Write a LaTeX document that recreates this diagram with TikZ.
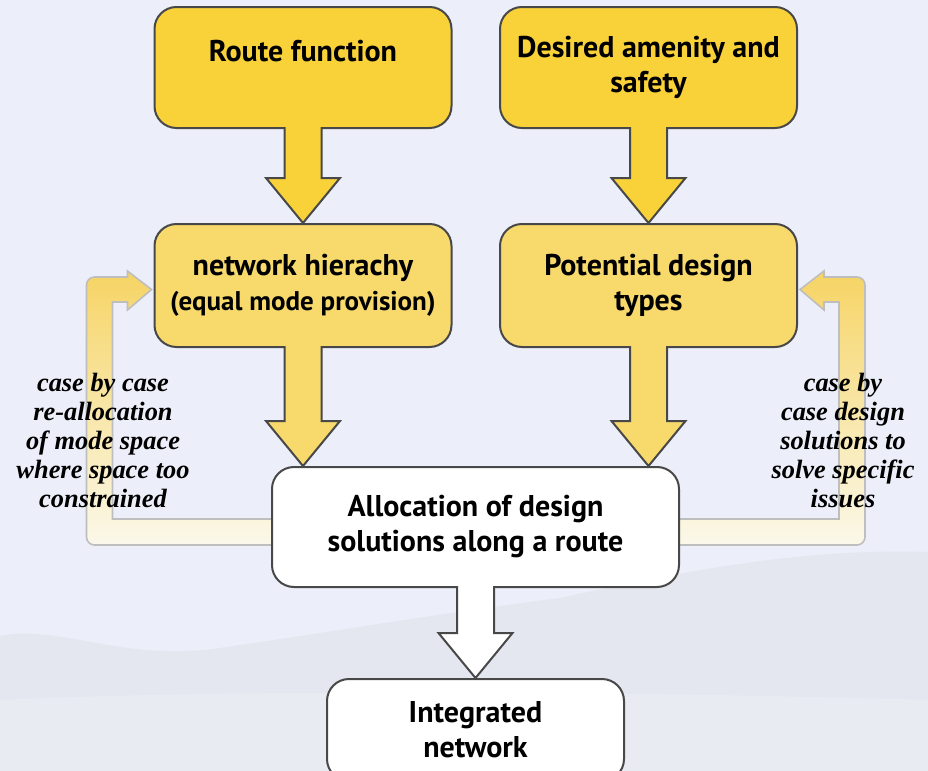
\documentclass[tikz,border=0pt]{standalone}
\usepackage{fontspec}
\setmainfont{Liberation Serif}
\setsansfont{PT Sans}
\usetikzlibrary{positioning}
\usetikzlibrary{calc}
\usetikzlibrary{backgrounds}

\definecolor{bgblue}{RGB}{236,239,249}
\definecolor{mist}{RGB}{228,231,239}
\definecolor{mistlow}{RGB}{233,235,242}
\definecolor{topyellow}{RGB}{249,210,58}
\definecolor{midyellow}{RGB}{247,217,108}
\definecolor{boxline}{RGB}{72,72,72}
\definecolor{loopline}{RGB}{190,190,190}
\definecolor{loopyellow}{RGB}{246,212,100}
\definecolor{looppale}{RGB}{251,248,234}

\newcommand{\bigarrow}[3]{%
  \filldraw[arrowline, fill=#3] ($(#1)+(-18.5,-2)$) -- ($(#2)+(-18.5,-45)$) -- ($(#2)+(-37,-45)$) -- (#2)
    -- ($(#2)+(37,-45)$) -- ($(#2)+(18.5,-45)$) -- ($(#1)+(18.5,-2)$);}

\begin{document}
\begin{tikzpicture}[x=0.5pt, y=-0.5pt,
    box/.style={draw=boxline, line width=1pt, rounded corners=11pt, align=center, inner sep=0pt,
      minimum width=148.5pt, minimum height=60.5pt, font=\sffamily\bfseries\fontsize{15}{17.5}\selectfont},
    note/.style={align=center, inner sep=0pt, font=\rmfamily\bfseries\itshape\fontsize{13.2}{14.5}\selectfont},
    arrowline/.style={draw=boxline, line width=1pt, line join=miter},
    loopband/.style={draw=loopline, line width=0.8pt, top color=loopyellow, bottom color=looppale}]
        \useasboundingbox (0,0) rectangle (928,771);
        \clip (0,0) rectangle (928,771);

        \node[box, fill=topyellow] (route) at (303,67.5) {Route function\\[-6pt]\strut};
        \node[box, fill=topyellow] (amenity) at (648.5,67.5) {Desired amenity and\\safety};
        \node[box, fill=midyellow, minimum height=61.5pt] (hierarchy) at (303,285.5)
            {network hierachy\\{\fontsize{13.5}{17.5}\selectfont(equal mode provision)}};
        \node[box, fill=midyellow, minimum height=61.5pt] (types) at (648.5,285.5) {Potential design\\types};
        \node[box, fill=white, minimum width=203.5pt, minimum height=60pt] (allocation) at (475.5,527)
            {Allocation of design\\solutions along a route};
        \node[box, fill=white, minimum height=51pt] (integrated) at (475.5,730) {Integrated\\network};

        \node[note] (leftnote) at (103,440) {case by case\\re-allocation\\of mode space\\where space too\\constrained};
        \node[note] (rightnote) at (843,440) {case by\\case design\\solutions to\\solve specific\\issues};

        \coordinate (routetip) at (route.south |- hierarchy.north);
        \coordinate (amenitytip) at (amenity.south |- types.north);
        \coordinate (hierarchytip) at (hierarchy.south |- allocation.north);
        \coordinate (typestip) at (types.south |- allocation.north);

        \bigarrow{route.south}{routetip}{topyellow}
        \bigarrow{amenity.south}{amenitytip}{topyellow}
        \bigarrow{hierarchy.south}{hierarchytip}{midyellow}
        \bigarrow{types.south}{typestip}{midyellow}
        \bigarrow{allocation.south}{integrated.north}{white}

        \coordinate (lin) at ($(hierarchy.west)+(-41,0)$);
        \coordinate (lout) at ($(hierarchy.west)+(-67,0)$);
        \coordinate (lhead) at ($(hierarchy.west)+(-26,0)$);
        \coordinate (ltip) at ($(hierarchy.west)+(-2,4)$);
        \coordinate (rin) at ($(types.east)+(41,0)$);
        \coordinate (rout) at ($(types.east)+(67,0)$);
        \coordinate (rhead) at ($(types.east)+(26,0)$);
        \coordinate (rtip) at ($(types.east)+(2,4)$);

        \begin{scope}[on background layer]
            \fill[bgblue] (0,0) rectangle (928,771);
            \fill[mist] (0,771) -- (0,636)
                .. controls (60,624) and (120,662) .. (220,648)
                .. controls (330,632) and (450,612) .. (560,598)
                .. controls (680,572) and (800,548) .. (928,552) -- (928,771) -- cycle;
            \fill[mistlow] (0,771) -- (0,700) .. controls (200,690) and (600,690) .. (928,700) -- (928,771) -- cycle;
            \path[loopband] ($(allocation.west)+(0,-8)$) -- ($(lin |- allocation.west)+(0,-8)$)
                -- ($(lin)+(0,16.5)$) -- ($(lhead)+(0,16.5)$) -- ($(lhead)+(0,24.5)$) -- (ltip)
                -- ($(lhead)+(0,-14.5)$) -- ($(lhead)+(0,-8.5)$)
                [rounded corners=4pt] -- ($(lout)+(0,-8.5)$) -- ($(lout |- allocation.west)+(0,18)$)
                [sharp corners] -- ($(allocation.west)+(0,18)$);
            \path[loopband] ($(allocation.east)+(0,-8)$) -- ($(rin |- allocation.east)+(0,-8)$)
                -- ($(rin)+(0,16.5)$) -- ($(rhead)+(0,16.5)$) -- ($(rhead)+(0,24.5)$) -- (rtip)
                -- ($(rhead)+(0,-14.5)$) -- ($(rhead)+(0,-8.5)$)
                [rounded corners=4pt] -- ($(rout)+(0,-8.5)$) -- ($(rout |- allocation.east)+(0,18)$)
                [sharp corners] -- ($(allocation.east)+(0,18)$);
        \end{scope}
\end{tikzpicture}
\end{document}
